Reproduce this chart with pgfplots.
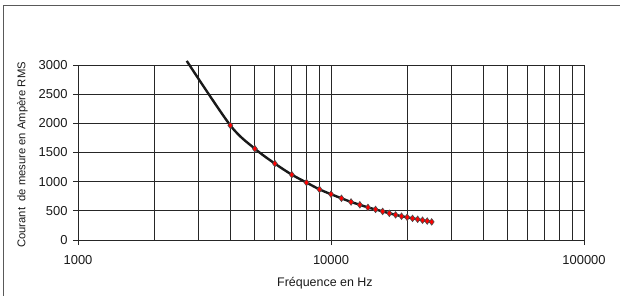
\documentclass[border=0pt]{standalone}
\usepackage{pgfplots}
\pgfplotsset{compat=1.18}
\usepackage{fontspec}
\setmainfont{Liberation Sans}
\definecolor{gridc}{HTML}{262626}
\definecolor{mred}{HTML}{FF0000}
\begin{document}
\begin{tikzpicture}[x=1bp,y=1bp]
\useasboundingbox (0,0) rectangle (620,295);
\draw[color=black!65, line width=1.2bp] (3.5,-10) -- (3.5,289.5) -- (630,289.5);
\begin{axis}[
  at={(78bp,55bp)}, anchor=south west,
  scale only axis, width=506bp, height=175bp,
  xmode=log, xmin=1000, xmax=100000, ymin=0, ymax=3000,
  xtick={1000,10000,100000}, xticklabels={1000,10000,100000},
  ytick={0,500,1000,1500,2000,2500,3000},
  yticklabels={0,500,1000,1500,2000,2500,3000},
  grid=both,
  major grid style={color=gridc, line width=1bp},
  minor grid style={color=gridc, line width=1bp},
  axis line style={color=gridc, line width=1bp},
  tick align=outside, major tick length=5bp, minor tick length=0pt,
  xtick pos=bottom, ytick pos=left,
  every tick/.style={color=gridc, line width=1bp},
  tick label style={font=\fontsize{13}{15}\selectfont, text=black!90},
  xticklabel style={yshift=-7bp},
  yticklabel style={xshift=-2bp},
  xlabel={Fréquence en Hz},
  ylabel={Courant\ \ de mesure en Ampère RMS},
  xlabel style={at={(rel axis cs:0.488,-0.246)}, anchor=center, font=\fontsize{12.5}{14}\selectfont, text=black!90},
  ylabel style={at={(rel axis cs:-0.1097,0.486)}, anchor=center, rotate=0, font=\fontsize{11.3}{14}\selectfont, text=black!90},
  clip=false,
]
\addplot[color=black!90, line width=2.4bp, smooth, tension=0.5, no markers] coordinates {
 (2690,3070) (4000,1965) (5000,1565) (6000,1310) (7000,1120) (8000,985)
 (9000,868) (10000,785) (11000,715) (12000,652) (13000,604) (14000,558)
 (15000,524) (16000,490) (17000,458) (18000,431) (19000,408) (20000,389)
 (21000,371) (22000,355) (23000,339) (24000,325) (25000,310)
};
\addplot[only marks, mark=diamond*, mark size=3.3bp, mark options={fill=mred, draw=black!70, line width=0.6bp}] coordinates {
 (4000,1965) (5000,1565) (6000,1310) (7000,1120) (8000,985)
 (9000,868) (10000,785) (11000,715) (12000,652) (13000,604) (14000,558)
 (15000,524) (16000,490) (17000,458) (18000,431) (19000,408) (20000,389)
 (21000,371) (22000,355) (23000,339) (24000,325) (25000,310)
};
\end{axis}
\end{tikzpicture}
\end{document}
